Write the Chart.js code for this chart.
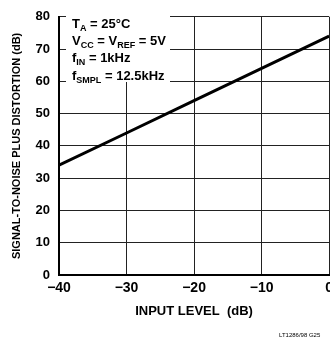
<!DOCTYPE html>
<html>
<head>
<meta charset="utf-8">
<script src="https://cdn.jsdelivr.net/npm/chart.js@4"></script>
<style>
  html, body { margin: 0; padding: 0; background: #fff; overflow: hidden; }
  #wrap { width: 338px; height: 343px; }
</style>
</head>
<body>
<div id="wrap"><canvas id="myChart"></canvas></div>
<script>
const inputLevel = [-40, -30, -20, -10, 0];
const sinad = [34, 44, 54, 64, 74];
const xTicks = [-40, -30, -20, -10, 0];
const yTicks = [0, 10, 20, 30, 40, 50, 60, 70, 80];

const font = "'Liberation Sans Narrow', 'Arial Narrow', 'Liberation Sans', sans-serif";

// conditions box in upper-left, with subscripts
const conditions = [
  [["T", ""], ["A", "sub"], [" = 25°C", ""]],
  [["V", ""], ["CC", "sub"], [" = V", ""], ["REF", "sub"], [" = 5V", ""]],
  [["f", ""], ["IN", "sub"], [" = 1kHz", ""]],
  [["f", ""], ["SMPL", "sub"], [" = 12.5kHz", ""]],
];

const notePlugin = {
  id: "notes",
  afterDraw(chart) {
    const ctx = chart.ctx;
    ctx.save();
    ctx.fillStyle = "#fff";
    ctx.fillRect(66, 14, 104, 68);
    ctx.fillStyle = "#000";
    ctx.textBaseline = "alphabetic";
    let y = 28;
    for (const line of conditions) {
      let x = 72;
      for (const [txt, kind] of line) {
        if (kind === "sub") {
          ctx.font = "bold 9px " + font;
          ctx.fillText(txt, x, y + 3);
        } else {
          ctx.font = "bold 13px " + font;
          ctx.fillText(txt, x, y);
        }
        x += ctx.measureText(txt).width;
      }
      y += 17.2;
    }
    ctx.font = "6px " + font;
    ctx.fillText("LT1286/98 G25", 279, 337);
    ctx.restore();
  }
};

new Chart("myChart", {
  type: "line",
  data: {
    datasets: [{
      data: inputLevel.map((v, i) => ({ x: v, y: sinad[i] })),
      borderColor: "#000",
      borderWidth: 3,
      pointRadius: 0,
      fill: false,
    }]
  },
  options: {
    responsive: true,
    maintainAspectRatio: false,
    animation: false,
    layout: { padding: { top: 11, right: 0, left: 0, bottom: 0 } },
    plugins: { legend: { display: false }, tooltip: { enabled: false } },
    scales: {
      x: {
        type: "linear",
        min: -40, max: 0,
        afterBuildTicks: s => { s.ticks = xTicks.map(v => ({ value: v })); },
        afterFit: s => { s.height = 68; },
        ticks: {
          color: "#000",
          font: { family: font, size: 14, weight: "bold" },
          padding: 5,
          callback: v => v < 0 ? "\u2212" + Math.abs(v) : v,
        },
        grid: { color: "#222", lineWidth: 1, drawTicks: false },
        border: { color: "#000", width: 2 },
        title: {
          display: true,
          text: "INPUT LEVEL  (dB)",
          color: "#000",
          font: { family: font, size: 13, weight: "bold" },
          padding: { top: 0, bottom: 24 },
        }
      },
      y: {
        min: 0, max: 80,
        afterBuildTicks: s => { s.ticks = yTicks.map(v => ({ value: v })); },
        afterFit: s => { s.width = 59; },
        ticks: {
          color: "#000",
          font: { family: font, size: 13, weight: "bold" },
          padding: 9,
        },
        grid: { color: "#222", lineWidth: 1, drawTicks: false },
        border: { color: "#000", width: 2 },
        title: {
          display: true,
          text: "SIGNAL-TO-NOISE PLUS DISTORTION (dB)",
          color: "#000",
          font: { family: font, size: 11, weight: "bold" },
          padding: { top: 10, bottom: 0 },
        }
      }
    }
  },
  plugins: [notePlugin]
});
</script>
</body>
</html>
